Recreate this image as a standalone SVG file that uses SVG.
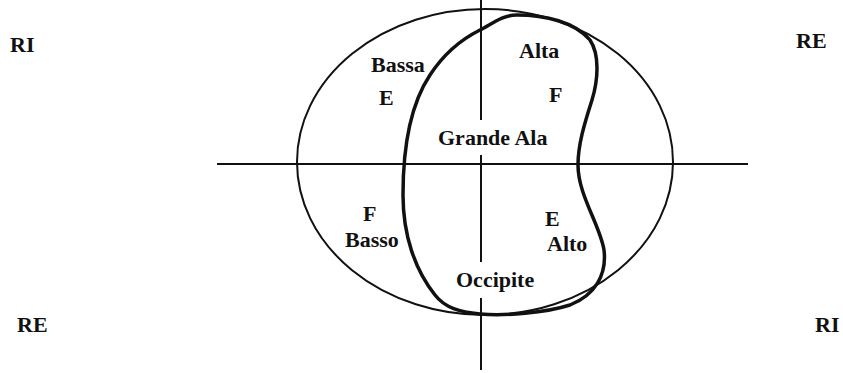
<svg xmlns="http://www.w3.org/2000/svg" width="843" height="373" viewBox="0 0 843 373">
<style>
.t{font-family:"Liberation Serif","Times New Roman",serif;font-weight:bold;font-size:22px;fill:#111}
.ln{stroke:#111;stroke-width:2;fill:none}
</style>
<rect width="843" height="373" fill="#fff"/>
<g id="axes">
<line class="ln" x1="217" y1="164" x2="748" y2="164"/>
<line class="ln" x1="481" y1="0" x2="481" y2="120"/>
<line class="ln" x1="481" y1="155" x2="481" y2="262"/>
<line class="ln" x1="481" y1="298" x2="481" y2="370"/>
</g>
<g id="ellipse">
<ellipse class="ln" cx="485" cy="162" rx="188" ry="153"/>
</g>
<g id="bean">
<path d="M480,30 C492,24 502,15 517,15 C545,15 575,22 590,40 C600,55 598,80 592,100 C584,125 578,145 578,165 C578,195 600,225 604,250 C607,275 595,295 570,305 C545,313 505,316 480,314 C460,312 445,308 435,295 C415,270 403,235 403,195 C403,150 410,105 430,75 C445,52 462,39 480,30 Z" fill="none" stroke="#111" stroke-width="3.5"/>
</g>
<g id="labels">
<text class="t" x="10" y="52">RI</text>
<text class="t" x="796" y="48">RE</text>
<text class="t" x="17" y="332">RE</text>
<text class="t" x="815" y="332">RI</text>
<text class="t" x="371" y="72">Bassa</text>
<text class="t" x="379" y="105">E</text>
<text class="t" x="519" y="58">Alta</text>
<text class="t" x="549" y="102">F</text>
<text class="t" x="438" y="145">Grande Ala</text>
<text class="t" x="363" y="221">F</text>
<text class="t" x="345" y="247">Basso</text>
<text class="t" x="545" y="226">E</text>
<text class="t" x="547" y="251">Alto</text>
<text class="t" x="456" y="287">Occipite</text>
</g>
</svg>
